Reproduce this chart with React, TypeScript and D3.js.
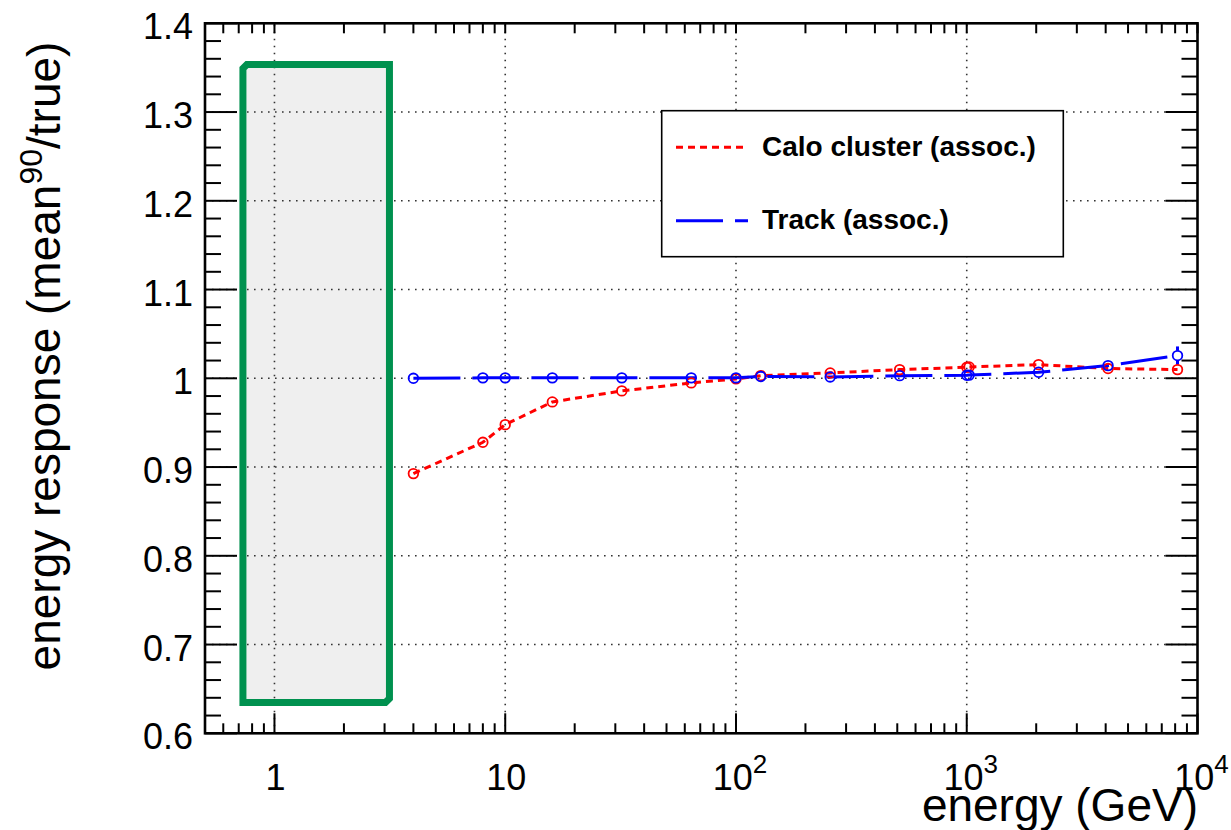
import React from "react";
import * as d3 from "d3";

// Beam energies (GeV) and measured responses
const energies = [4, 8, 10, 16, 32, 64, 100, 128, 256, 512, 1000, 1024, 2048, 4096, 8192];
const caloResponse = [0.8926, 0.9279, 0.9478, 0.9734, 0.9858, 0.9948, 0.9993, 1.003, 1.006, 1.0098, 1.0124, 1.0128, 1.0154, 1.011, 1.0098];
const trackResponse = [1.0, 1.0005, 1.0005, 1.0005, 1.0005, 1.0005, 1.0005, 1.002, 1.0015, 1.003, 1.0034, 1.0036, 1.0068, 1.0143, 1.0256];
const trackError = [0, 0, 0, 0, 0, 0, 0, 0, 0, 0, 0, 0, 0, 0, 0.0103];

const yTicks = [0.6, 0.7, 0.8, 0.9, 1.0, 1.1, 1.2, 1.3, 1.4];
const xMajorTicks = [1, 10, 100, 1000, 10000];
const xTickLabels = [
  { base: "1", exp: "" },
  { base: "10", exp: "" },
  { base: "10", exp: "2" },
  { base: "10", exp: "3" },
  { base: "10", exp: "4" },
];
const legendLabels = ["Calo cluster (assoc.)", "Track (assoc.)"];

// Highlighted low-energy band (energy range, response range)
const bandEnergy = [0.73, 3.15];
const bandResponse = [0.6346, 1.3535];

const W = 1231;
const H = 830;
const left = 205;
const right = 1197.5;
const top = 23.3;
const bottom = 733.3;

const FONT = "'Liberation Sans', Arial, Helvetica, sans-serif";

export default function App() {
  const x = d3.scaleLog().domain([0.5, 10000]).range([left, right]);
  const y = d3.scaleLinear().domain([0.6, 1.4]).range([bottom, top]);

  // minor ticks on log axis
  const xMinor: number[] = [];
  for (let dec = -1; dec <= 3; dec++) {
    for (let m = 2; m <= 9; m++) {
      const v = m * Math.pow(10, dec);
      if (v > 0.5 && v < 10000) xMinor.push(v);
    }
  }
  const yMinor: number[] = [];
  for (let i = 0; i <= 40; i++) {
    const v = 0.6 + i * 0.02;
    if (i % 5 !== 0) yMinor.push(v);
  }

  const caloPts = energies.map((e, i) => [x(e), y(caloResponse[i])] as [number, number]);
  const trackPts = energies.map((e, i) => [x(e), y(trackResponse[i])] as [number, number]);
  const line = d3.line();

  const bx0 = x(bandEnergy[0]);
  const bx1 = x(bandEnergy[1]);
  const by0 = y(bandResponse[1]);
  const by1 = y(bandResponse[0]);
  const ch = 4;
  const bandPath = `M${bx0},${by0 + ch} L${bx0 + ch},${by0} L${bx1},${by0} L${bx1},${by1 - ch} L${bx1 - ch},${by1} L${bx0},${by1} Z`;

  const r = 4.8;
  const gridColor = "#333";

  return (
    <svg width={W} height={H} viewBox={`0 0 ${W} ${H}`} style={{ display: "block", position: "absolute", left: 0, top: 0 }}>
      <rect x={0} y={0} width={W} height={H} fill="#fff" />

      {/* band fill */}
      <path d={bandPath} fill="#efefef" stroke="none" />

      {/* grid */}
      <g stroke={gridColor} strokeWidth={1.6} strokeDasharray="1.6 5.4">
        {xMajorTicks.slice(0, 4).map((v) => (
          <line key={"gx" + v} x1={x(v)} x2={x(v)} y1={bottom} y2={top} />
        ))}
        {yTicks.slice(1, -1).map((v) => (
          <line key={"gy" + v} x1={left} x2={right} y1={y(v)} y2={y(v)} />
        ))}
      </g>

      {/* band outline */}
      <path d={bandPath} fill="none" stroke="#00914f" strokeWidth={7} strokeLinejoin="miter" />

      {/* series lines */}
      <path d={line(caloPts) || ""} fill="none" stroke="#ff0000" strokeWidth={3} strokeDasharray="7 5" />
      <path d={line(trackPts) || ""} fill="none" stroke="#0000ff" strokeWidth={3} strokeDasharray="47 12" />

      {/* track error bars */}
      {energies.map((e, i) =>
        trackError[i] > 0 ? (
          <g key={"err" + i} stroke="#0000ff" strokeWidth={3}>
            <line x1={x(e)} x2={x(e)} y1={y(trackResponse[i] + trackError[i])} y2={y(trackResponse[i]) - r} />
            <line x1={x(e)} x2={x(e)} y1={y(trackResponse[i]) + r} y2={y(trackResponse[i] - trackError[i])} />
          </g>
        ) : null
      )}

      {/* markers */}
      {caloPts.map(([cx, cy], i) => (
        <circle key={"cm" + i} cx={cx} cy={cy} r={r} fill="none" stroke="#ff0000" strokeWidth={1.8} />
      ))}
      {trackPts.map(([cx, cy], i) => (
        <circle key={"tm" + i} cx={cx} cy={cy} r={r} fill="none" stroke="#0000ff" strokeWidth={1.8} />
      ))}

      {/* frame */}
      <rect x={left} y={top} width={right - left} height={bottom - top} fill="none" stroke="#000" strokeWidth={2.6} />

      {/* ticks */}
      <g stroke="#000" strokeWidth={2}>
        {yTicks.map((v) => (
          <g key={"yt" + v}>
            <line x1={left} x2={left + 32} y1={y(v)} y2={y(v)} />
            <line x1={right} x2={right - 32} y1={y(v)} y2={y(v)} />
          </g>
        ))}
        {yMinor.map((v) => (
          <g key={"ym" + v}>
            <line x1={left} x2={left + 16} y1={y(v)} y2={y(v)} />
            <line x1={right} x2={right - 16} y1={y(v)} y2={y(v)} />
          </g>
        ))}
        {xMajorTicks.map((v) => (
          <g key={"xt" + v}>
            <line x1={x(v)} x2={x(v)} y1={bottom} y2={bottom - 20} />
            <line x1={x(v)} x2={x(v)} y1={top} y2={top + 10} />
          </g>
        ))}
        {xMinor.map((v) => (
          <g key={"xm" + v}>
            <line x1={x(v)} x2={x(v)} y1={bottom} y2={bottom - 10} />
            <line x1={x(v)} x2={x(v)} y1={top} y2={top + 10} />
          </g>
        ))}
      </g>

      {/* y tick labels */}
      <g fontFamily={FONT} fontSize={36} fill="#000" textAnchor="end">
        {yTicks.map((v) => (
          <text key={"yl" + v} x={193} y={y(v) + 16}>
            {Math.abs(v - 1) < 1e-9 ? "1" : v.toFixed(1)}
          </text>
        ))}
      </g>

      {/* x tick labels */}
      <g fontFamily={FONT} fontSize={36} fill="#000">
        {xMajorTicks.map((v, i) => {
          const lab = xTickLabels[i];
          return (
            <text key={"xl" + v} x={x(v) + (lab.exp ? 4 : 1)} y={790} textAnchor="middle">
              {lab.base}
              {lab.exp ? (
                <tspan fontSize={26} dy={-17}>
                  {lab.exp}
                </tspan>
              ) : null}
            </text>
          );
        })}
      </g>

      {/* axis titles */}
      <text x={1198} y={821} textAnchor="end" fontFamily={FONT} fontSize={46} fill="#000">
        energy (GeV)
      </text>
      <text transform="translate(60,356) rotate(-90)" textAnchor="middle" fontFamily={FONT} fontSize={46} fill="#000">
        energy response (mean
        <tspan fontSize={32} dy={-18}>90</tspan>
        <tspan dy={18}>/true)</tspan>
      </text>

      {/* legend */}
      <g>
        <rect x={661.7} y={110.7} width={401.6} height={146} fill="#fff" stroke="#000" strokeWidth={1.6} />
        <line x1={676} x2={743} y1={147.3} y2={147.3} stroke="#ff0000" strokeWidth={3} strokeDasharray="7 5" />
        <line x1={676} x2={748} y1={220.7} y2={220.7} stroke="#0000ff" strokeWidth={3} strokeDasharray="47 12" />
        <text x={762} y={156} fontFamily={FONT} fontWeight="bold" fontSize={28} fill="#000">
          {legendLabels[0]}
        </text>
        <text x={762} y={229} fontFamily={FONT} fontWeight="bold" fontSize={28} fill="#000">
          {legendLabels[1]}
        </text>
      </g>
    </svg>
  );
}
